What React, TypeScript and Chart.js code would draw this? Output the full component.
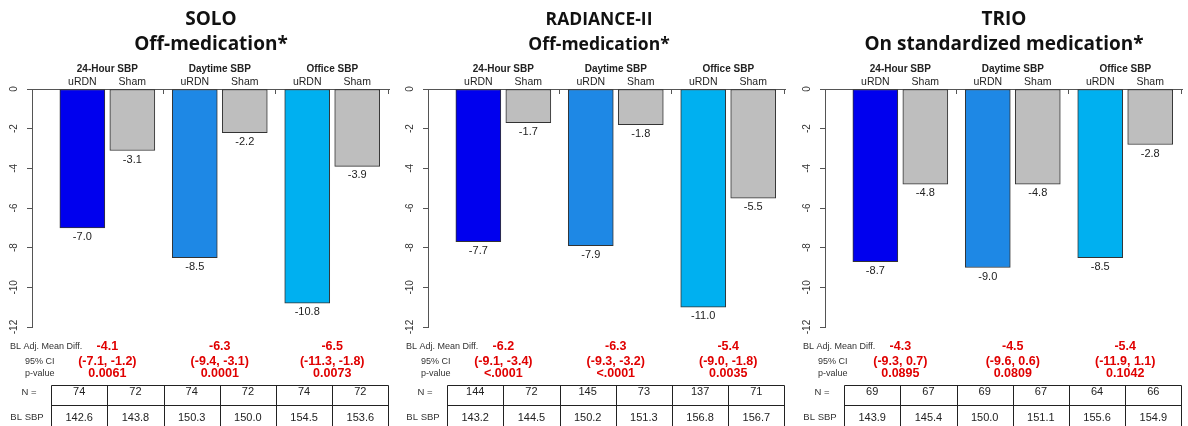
import React, { useEffect, useRef } from "react";
import { Chart, registerables } from "chart.js";

Chart.register(...registerables);

// ---------- data ----------
const trialNames = ["SOLO", "RADIANCE-II", "TRIO"];
const trialSubtitles = ["Off-medication*", "Off-medication*", "On standardized medication*"];
const measures = ["24-Hour SBP", "Daytime SBP", "Office SBP"];
const arms = ["uRDN", "Sham"];
const yTickValues = [0, -2, -4, -6, -8, -10, -12];
const statLabels = ["BL Adj. Mean Diff.", "95% CI", "p-value"];
const tableLabels = ["N =", "BL SBP"];

const soloUrdn = [-7.0, -8.5, -10.8];
const soloSham = [-3.1, -2.2, -3.9];
const radianceUrdn = [-7.7, -7.9, -11.0];
const radianceSham = [-1.7, -1.8, -5.5];
const trioUrdn = [-8.7, -9.0, -8.5];
const trioSham = [-4.8, -4.8, -2.8];

const soloDiff = [-4.1, -6.3, -6.5];
const soloCiLow = [-7.1, -9.4, -11.3];
const soloCiHigh = [-1.2, -3.1, -1.8];
const soloP = ["0.0061", "0.0001", "0.0073"];
const radianceDiff = [-6.2, -6.3, -5.4];
const radianceCiLow = [-9.1, -9.3, -9.0];
const radianceCiHigh = [-3.4, -3.2, -1.8];
const radianceP = ["<.0001", "<.0001", "0.0035"];
const trioDiff = [-4.3, -4.5, -5.4];
const trioCiLow = [-9.3, -9.6, -11.9];
const trioCiHigh = [0.7, 0.6, 1.1];
const trioP = ["0.0895", "0.0809", "0.1042"];

const soloNUrdn = [74, 74, 74];
const soloNSham = [72, 72, 72];
const radianceNUrdn = [144, 145, 137];
const radianceNSham = [72, 73, 71];
const trioNUrdn = [69, 69, 64];
const trioNSham = [67, 67, 66];

const soloBlUrdn = [142.6, 150.3, 154.5];
const soloBlSham = [143.8, 150.0, 153.6];
const radianceBlUrdn = [143.2, 150.2, 156.8];
const radianceBlSham = [144.5, 151.3, 156.7];
const trioBlUrdn = [143.9, 150.0, 155.6];
const trioBlSham = [145.4, 151.1, 154.9];

// ---------- assembled per trial ----------
const urdnSeries = [soloUrdn, radianceUrdn, trioUrdn];
const shamSeries = [soloSham, radianceSham, trioSham];
const diffSeries = [soloDiff, radianceDiff, trioDiff];
const ciLowSeries = [soloCiLow, radianceCiLow, trioCiLow];
const ciHighSeries = [soloCiHigh, radianceCiHigh, trioCiHigh];
const pSeries = [soloP, radianceP, trioP];
const nUrdnSeries = [soloNUrdn, radianceNUrdn, trioNUrdn];
const nShamSeries = [soloNSham, radianceNSham, trioNSham];
const blUrdnSeries = [soloBlUrdn, radianceBlUrdn, trioBlUrdn];
const blShamSeries = [soloBlSham, radianceBlSham, trioBlSham];

// ---------- style ----------
const urdnColors = ["#0000EE", "#1E88E5", "#00B0F0"];
const shamColor = "#BEBEBE";
const barBorder = "#333333";
const axisColor = "#555555";
const textColor = "#222222";
const redColor = "#E00000";
const SANS = '"Liberation Sans", Arial, sans-serif';
const TITLE_FONT = '"Open Sans", sans-serif';

const panelLefts = [0, 396, 793];
const panelWidth = 396;
const panelHeight = 426;
const titleSizes = [19, 17.5, 19];
const titleCenters = [211, 203, 211];
const ARM_OFFSET = 0.2223;

function fmt1(v: number) {
  return v.toFixed(1);
}

function makeTextPlugin(t: number) {
  return {
    id: "panelText" + t,
    afterDraw(chart: any) {
      const ctx = chart.ctx as CanvasRenderingContext2D;
      const xs = chart.scales.x;
      ctx.save();

      // titles
      ctx.fillStyle = "#111";
      ctx.textAlign = "center";
      ctx.textBaseline = "alphabetic";
      ctx.font = `bold ${titleSizes[t]}px ${TITLE_FONT}`;
      ctx.fillText(trialNames[t], titleCenters[t], 25);
      ctx.fillText(trialSubtitles[t], titleCenters[t], 49.5);

      // group headers
      const metaU = chart.getDatasetMeta(0);
      const metaS = chart.getDatasetMeta(1);
      measures.forEach((m, g) => {
        ctx.fillStyle = textColor;
        ctx.font = `bold 10px ${SANS}`;
        ctx.fillText(m, xs.getPixelForValue(g + 1), 72);
        ctx.font = `10.5px ${SANS}`;
        ctx.fillText(arms[0], metaU.data[g].x, 85);
        ctx.fillText(arms[1], metaS.data[g].x, 85);
      });

      // value labels under bars
      ctx.textBaseline = "middle";
      ctx.font = `11px ${SANS}`;
      ctx.fillStyle = textColor;
      [metaU, metaS].forEach((meta, di) => {
        const vals = di === 0 ? urdnSeries[t] : shamSeries[t];
        meta.data.forEach((el: any, j: number) => {
          ctx.fillText(fmt1(vals[j]), el.x, el.y + 9);
        });
      });

      // stats labels
      const rowY = [346.5, 362, 374];
      ctx.fillStyle = "#333";
      ctx.font = `9px ${SANS}`;
      ctx.textAlign = "left";
      ctx.fillText(statLabels[0], 10, rowY[0]);
      ctx.fillText(statLabels[1], 25, rowY[1]);
      ctx.fillText(statLabels[2], 25, rowY[2]);

      // stats values
      ctx.textAlign = "center";
      ctx.fillStyle = redColor;
      ctx.font = `bold 12.5px ${SANS}`;
      measures.forEach((_, g) => {
        const c = xs.getPixelForValue(g + 1);
        ctx.fillText(fmt1(diffSeries[t][g]), c, rowY[0]);
        ctx.fillText(`(${fmt1(ciLowSeries[t][g])}, ${fmt1(ciHighSeries[t][g])})`, c, rowY[1]);
        ctx.fillText(pSeries[t][g], c, rowY[2]);
      });

      // table
      const top = 385.5;
      const mid = 405.5;
      const bottom = 426.5;
      const px = (v: number) => Math.round(xs.getPixelForValue(v)) + 0.5;
      ctx.strokeStyle = "#222";
      ctx.lineWidth = 1;
      ctx.beginPath();
      const left = px(0.5);
      const right = px(3.5);
      ctx.moveTo(left, top); ctx.lineTo(right, top);
      ctx.moveTo(left, mid); ctx.lineTo(right, mid);
      ctx.moveTo(left, bottom); ctx.lineTo(right, bottom);
      [0.5, 1, 1.5, 2, 2.5, 3, 3.5].forEach((v) => {
        ctx.moveTo(px(v), top); ctx.lineTo(px(v), bottom);
      });
      ctx.stroke();

      ctx.fillStyle = "#333";
      ctx.font = `9.5px ${SANS}`;
      ctx.fillText(tableLabels[0], 29, 392);
      ctx.fillText(tableLabels[1], 27, 417.5);

      ctx.fillStyle = textColor;
      ctx.font = `11px ${SANS}`;
      measures.forEach((_, g) => {
        const cu = xs.getPixelForValue(g + 0.75);
        const cs = xs.getPixelForValue(g + 1.25);
        ctx.fillText(String(nUrdnSeries[t][g]), cu, 392);
        ctx.fillText(String(nShamSeries[t][g]), cs, 392);
        ctx.fillText(fmt1(blUrdnSeries[t][g]), cu, 417.5);
        ctx.fillText(fmt1(blShamSeries[t][g]), cs, 417.5);
      });

      ctx.restore();
    },
  };
}

function buildConfig(t: number): any {
  const datasets = [
    {
      label: arms[0],
      data: urdnSeries[t].map((v, g) => ({ x: g + 1 - ARM_OFFSET, y: v })),
      backgroundColor: urdnColors,
    },
    {
      label: arms[1],
      data: shamSeries[t].map((v, g) => ({ x: g + 1 + ARM_OFFSET, y: v })),
      backgroundColor: shamColor,
    },
  ].map((d) => ({
    ...d,
    borderColor: barBorder,
    borderWidth: 1,
    borderSkipped: false,
    barThickness: 45,
    grouped: false,
  }));

  return {
    type: "bar",
    data: { datasets },
    options: {
      animation: false,
      responsive: false,
      devicePixelRatio: 1,
      layout: { padding: { left: 0, top: 89, right: 7, bottom: 99 } },
      plugins: { legend: { display: false }, tooltip: { enabled: false } },
      scales: {
        x: {
          type: "linear",
          position: "top",
          offset: false,
          min: 0.33,
          max: 3.505,
          afterBuildTicks: (s: any) => {
            s.ticks = [1.5, 2.5, 3.5].map((v) => ({ value: v }));
          },
          afterFit: (s: any) => {
            s.height = 0;
          },
          ticks: { display: false },
          grid: { offset: false, drawOnChartArea: false, drawTicks: true, tickLength: -5, color: axisColor },
          border: { display: true, color: axisColor, width: 1 },
        },
        y: {
          min: -12,
          max: 0,
          afterBuildTicks: (s: any) => {
            s.ticks = yTickValues.map((v) => ({ value: v }));
          },
          afterFit: (s: any) => {
            s.width = 32;
          },
          ticks: {
            minRotation: 90,
            maxRotation: 90,
            crossAlign: "center",
            padding: 6,
            autoSkip: false,
            color: "#333",
            font: { family: SANS, size: 10 },
          },
          grid: { drawOnChartArea: false, drawTicks: true, tickLength: 5, color: axisColor },
          border: { display: true, color: axisColor, width: 1 },
        },
      },
    },
    plugins: [makeTextPlugin(t)],
  };
}

function Panel({ t }: { t: number }) {
  const ref = useRef<HTMLCanvasElement | null>(null);
  useEffect(() => {
    if (!ref.current) return;
    const chart = new Chart(ref.current, buildConfig(t));
    return () => chart.destroy();
  }, [t]);
  return (
    <canvas
      ref={ref}
      width={panelWidth}
      height={panelHeight}
      style={{ position: "absolute", left: panelLefts[t], top: 0, width: panelWidth, height: panelHeight }}
    />
  );
}

export default function App() {
  return (
    <div
      style={{
        position: "fixed",
        left: 0,
        top: 0,
        width: 1188,
        height: 426,
        background: "#ffffff",
        overflow: "hidden",
      }}
    >
      {trialNames.map((_, t) => (
        <Panel key={t} t={t} />
      ))}
    </div>
  );
}
